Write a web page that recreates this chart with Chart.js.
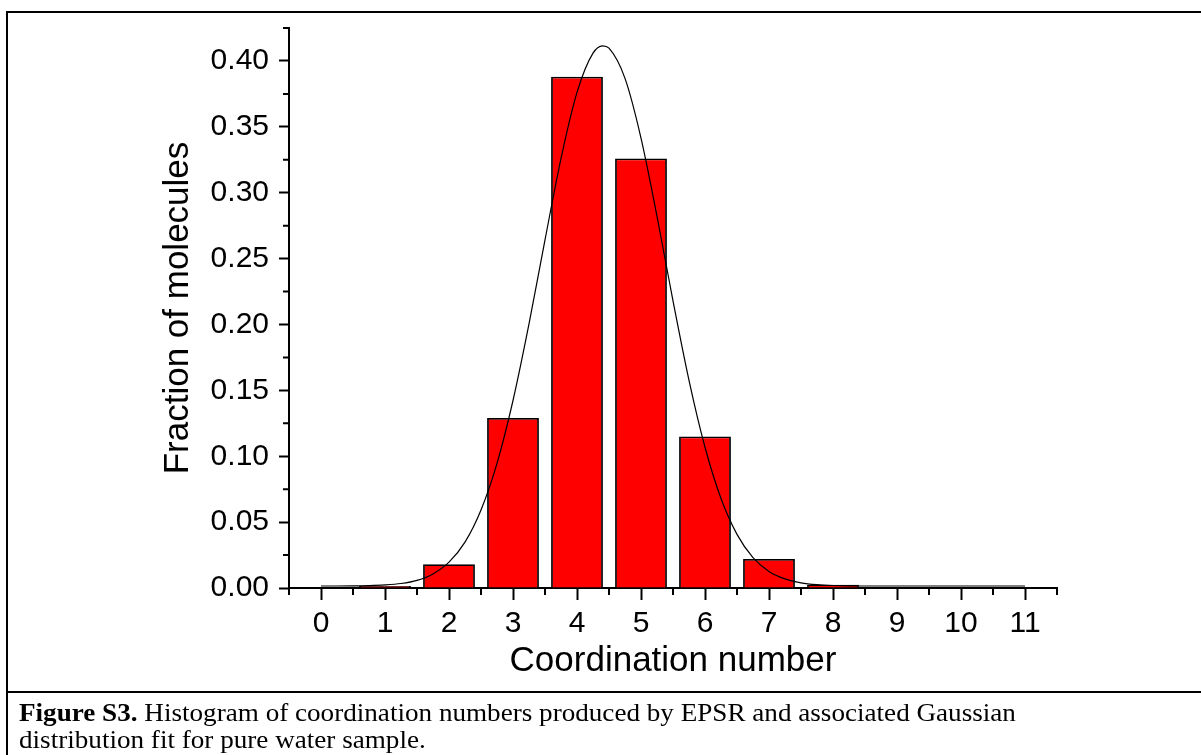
<!DOCTYPE html>
<html>
<head>
<meta charset="utf-8">
<script src="https://cdn.jsdelivr.net/npm/chart.js@4.4.1/dist/chart.umd.min.js"></script>
<style>
  html, body { margin: 0; padding: 0; background: #fff; overflow: hidden; }
  #wrap { position: relative; width: 1201px; height: 755px; overflow: hidden; }
  #chart { position: absolute; left: 0; top: 0; }
  #frame { position: absolute; left: 6px; top: 11px; width: 1300px; height: 800px;
           border: 2px solid #000; pointer-events: none; }
  #sep { position: absolute; left: 6px; top: 691px; width: 1300px; height: 2px; background: #000; }
  #caption { position: absolute; left: 19px; top: 699px; font-family: "Liberation Serif", "Times New Roman", serif;
             font-size: 25px; line-height: 27px; color: #000; white-space: nowrap;
             transform: scaleX(1.085); transform-origin: 0 0; }
</style>
</head>
<body>
<div id="wrap">
  <canvas id="chart" width="1201" height="692"></canvas>
  <div id="frame"></div>
  <div id="sep"></div>
  <div id="caption"><b>Figure S3.</b> Histogram of coordination numbers produced by EPSR and associated Gaussian<br>distribution fit for pure water sample.</div>
</div>
<script>
// данные гистограммы
const categories = [0, 1, 2, 3, 4, 5, 6, 7, 8, 9, 10, 11];
const fractions  = [0, 0.0015, 0.018, 0.129, 0.388, 0.326, 0.115, 0.022, 0.0025, 0, 0, 0];

// точки кривой Гаусса
const fitX = [0, 0.25, 0.5, 0.75, 1, 1.25, 1.5, 1.75, 2, 2.25, 2.5, 2.75, 3, 3.25, 3.5, 3.75,
              4, 4.25, 4.4, 4.5, 4.75, 5, 5.25, 5.5, 5.75, 6, 6.25, 6.5, 6.75, 7, 7.25, 7.5,
              7.75, 8, 8.5, 9, 10, 11];
const fitY = [0.0015, 0.0015, 0.0016, 0.0018, 0.0023, 0.0034, 0.0058, 0.0107, 0.0196, 0.0348,
              0.0592, 0.0946, 0.1423, 0.2004, 0.2642, 0.3259, 0.3761, 0.4059, 0.4115, 0.4097,
              0.3868, 0.3415, 0.2821, 0.2179, 0.1576, 0.1068, 0.0679, 0.0407, 0.0231, 0.0126,
              0.0069, 0.0039, 0.0025, 0.0019, 0.0015, 0.0015, 0.0015, 0.0015];

// деления осей
const yTicks      = [0, 0.05, 0.10, 0.15, 0.20, 0.25, 0.30, 0.35, 0.40];
const yMinorTicks = [0.025, 0.075, 0.125, 0.175, 0.225, 0.275, 0.325, 0.375, 0.425];
const xMinorTicks = [-0.5, 0.5, 1.5, 2.5, 3.5, 4.5, 5.5, 6.5, 7.5, 8.5, 9.5, 10.5, 11.5];

const tickFont  = { family: 'Liberation Sans, Arial, sans-serif', size: 30 };
const titleFont = { family: 'Liberation Sans, Arial, sans-serif', size: 35 };

// малые деления рисуем сами через шкалы
const minorTicks = {
  id: 'minorTicks',
  afterDraw(chart) {
    const { ctx, scales: { x, y } } = chart;
    ctx.save();
    ctx.strokeStyle = '#000';
    ctx.lineWidth = 2;
    ctx.beginPath();
    yMinorTicks.forEach(v => {
      const py = y.getPixelForValue(v);
      ctx.moveTo(y.right - 6, py);
      ctx.lineTo(y.right, py);
    });
    xMinorTicks.forEach(v => {
      const px = x.getPixelForValue(v);
      ctx.moveTo(px, x.top);
      ctx.lineTo(px, x.top + 7);
    });
    ctx.stroke();
    ctx.restore();
  }
};

const ctx = document.getElementById('chart').getContext('2d');
new Chart(ctx, {
  type: 'bar',
  data: {
    datasets: [
      {
        type: 'line',
        data: fitX.map((v, i) => ({ x: v, y: fitY[i] })),
        borderColor: '#000',
        borderWidth: 1.2,
        pointRadius: 0,
        cubicInterpolationMode: 'monotone',
        fill: false,
        order: 0
      },
      {
        type: 'bar',
        data: categories.map((c, i) => ({ x: c, y: fractions[i] })),
        backgroundColor: '#ff0000',
        borderColor: '#000',
        borderWidth: 1.8,
        barPercentage: 1,
        categoryPercentage: 0.81,
        order: 1
      }
    ]
  },
  plugins: [minorTicks],
  options: {
    responsive: false,
    animation: false,
    devicePixelRatio: 1,
    layout: { padding: { left: 0, top: 22, right: 144, bottom: 0 } },
    plugins: { legend: { display: false }, tooltip: { enabled: false } },
    scales: {
      x: {
        type: 'linear',
        offset: false,
        min: -0.5,
        max: 11.5,
        afterBuildTicks: s => { s.ticks = categories.map(v => ({ value: v })); },
        afterFit: s => { s.height = 104; },
        grid: { offset: false, drawOnChartArea: false, drawTicks: true, tickLength: 12, tickWidth: 2, tickColor: '#000' },
        border: { display: true, color: '#000', width: 2 },
        ticks: { color: '#000', font: tickFont, padding: 6, maxRotation: 0, autoSkip: false,
                 callback: v => String(v) },
        title: { display: true, text: 'Coordination number', color: '#000', font: titleFont,
                 padding: { top: 0, bottom: 10 } }
      },
      y: {
        min: 0,
        max: 0.425,
        afterBuildTicks: s => { s.ticks = yTicks.map(v => ({ value: v })); },
        afterFit: s => { s.width = 289; },
        grid: { drawOnChartArea: false, drawTicks: true, tickLength: 10, tickWidth: 2, tickColor: '#000' },
        border: { display: true, color: '#000', width: 2 },
        ticks: { color: '#000', font: tickFont, padding: 10, autoSkip: false,
                 callback: v => v.toFixed(2) },
        title: { display: true, text: 'Fraction of molecules', color: '#000', font: titleFont,
                 padding: { top: 157, bottom: 0 } }
      }
    }
  }
});
</script>
</body>
</html>
